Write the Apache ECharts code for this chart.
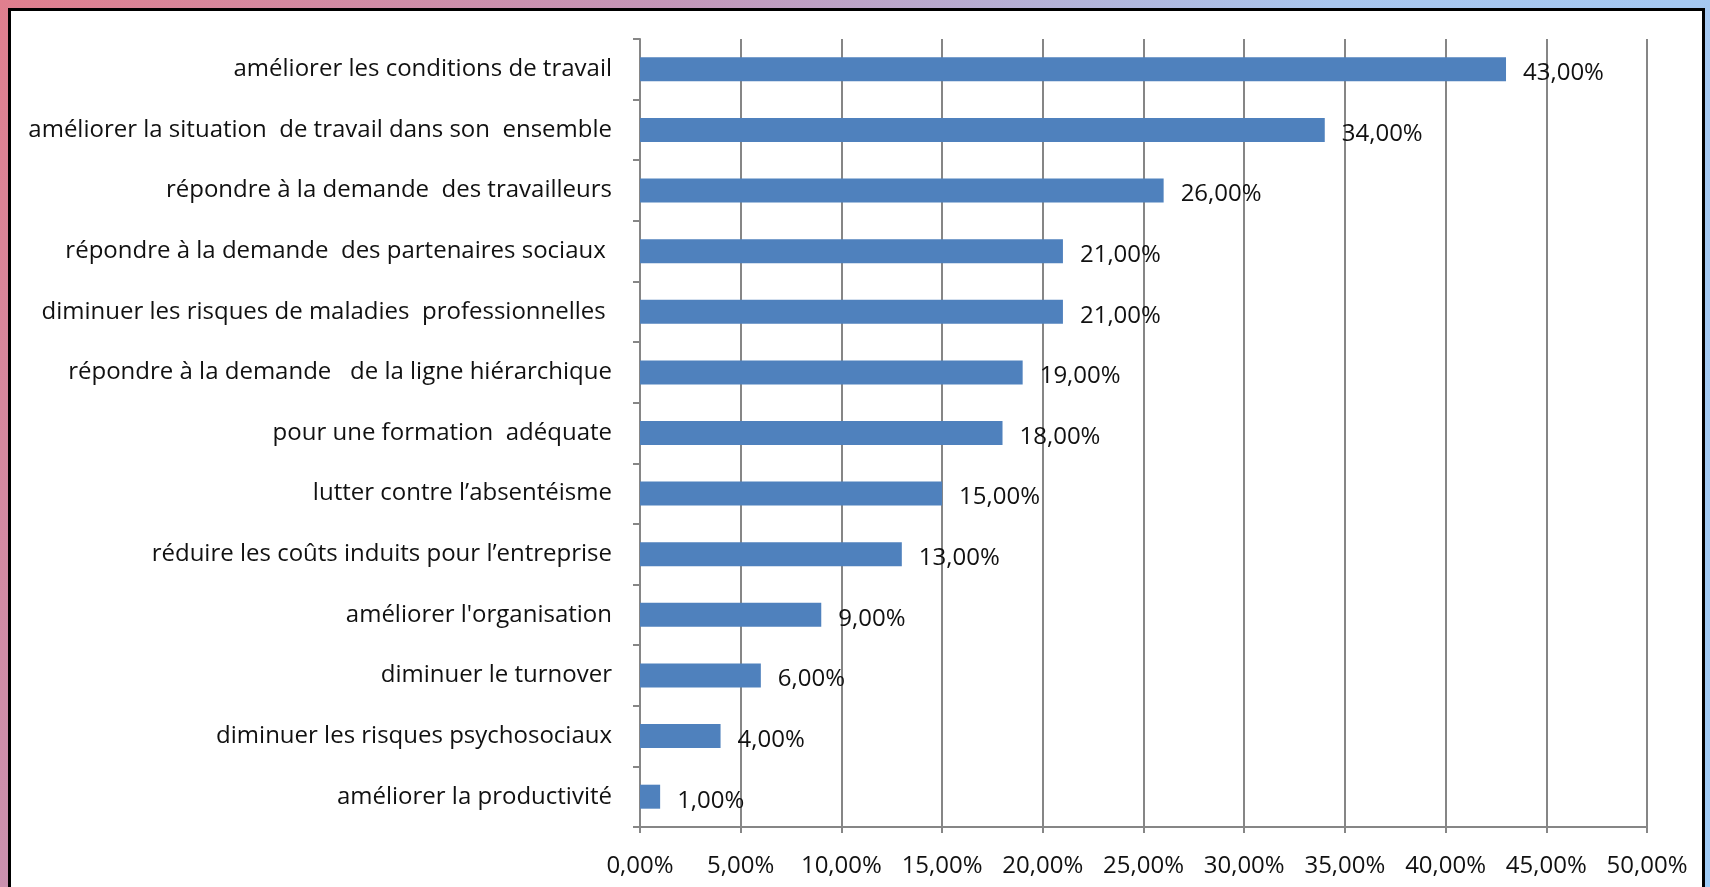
<!DOCTYPE html>
<html>
<head>
<meta charset="utf-8">
<script src="https://cdn.jsdelivr.net/npm/echarts@6/dist/echarts.min.js"></script>
<style>
  html, body { margin: 0; padding: 0; width: 1710px; height: 887px; overflow: hidden; }
  body { background: linear-gradient(120deg, #e07f8e 0%, #c496b8 30%, #a9c6ee 60%, #9fcbf6 100%); position: relative; }
  #frame { position: absolute; left: 8px; top: 8px; width: 1691px; height: 900px; background: #fff; border: 3px solid #000; }
  #chart { position: absolute; left: 0; top: 0; width: 1710px; height: 887px; }
</style>
</head>
<body>
<div id="frame"></div>
<div id="chart"></div>
<script>
var categories = [
  'améliorer les conditions de travail',
  'améliorer la situation  de travail dans son  ensemble',
  'répondre à la demande  des travailleurs',
  'répondre à la demande  des partenaires sociaux ',
  'diminuer les risques de maladies  professionnelles ',
  'répondre à la demande   de la ligne hiérarchique',
  'pour une formation  adéquate',
  'lutter contre l’absentéisme',
  'réduire les coûts induits pour l’entreprise',
  "améliorer l'organisation",
  'diminuer le turnover',
  'diminuer les risques psychosociaux',
  'améliorer la productivité'
];
var values = [43, 34, 26, 21, 21, 19, 18, 15, 13, 9, 6, 4, 1];

function pct(v) { return v.toFixed(2).replace('.', ',') + '%'; }

var chart = echarts.init(document.getElementById('chart'), null, { renderer: 'canvas' });
chart.setOption({
  animation: false,
  textStyle: { fontFamily: 'Open Sans' },
  grid: { left: 640, right: 63, top: 39, bottom: 60, outerBoundsMode: 'none' },
  xAxis: {
    type: 'value',
    min: 0,
    max: 50,
    interval: 5,
    axisLine: { show: true, lineStyle: { color: '#868686', width: 2 } },
    axisTick: { show: true, length: 6, lineStyle: { color: '#868686', width: 2 } },
    splitLine: { show: true, lineStyle: { color: '#868686', width: 2 } },
    axisLabel: { color: '#111', fontSize: 24, margin: 27, formatter: pct }
  },
  yAxis: {
    type: 'category',
    inverse: true,
    data: categories,
    axisLine: { show: true, lineStyle: { color: '#868686', width: 2 } },
    axisTick: { show: true, length: 7, lineStyle: { color: '#868686', width: 2 } },
    axisLabel: { color: '#111', fontSize: 24, margin: 28, padding: [8, 0, 0, 0] }
  },
  series: [{
    type: 'bar',
    data: values,
    barWidth: 24,
    itemStyle: { color: '#4f81bd' },
    label: { show: true, position: 'right', distance: 17, offset: [0, 4], color: '#111', fontSize: 24, fontFamily: 'Open Sans', formatter: function (p) { return pct(p.value); } }
  }]
});
</script>
</body>
</html>
